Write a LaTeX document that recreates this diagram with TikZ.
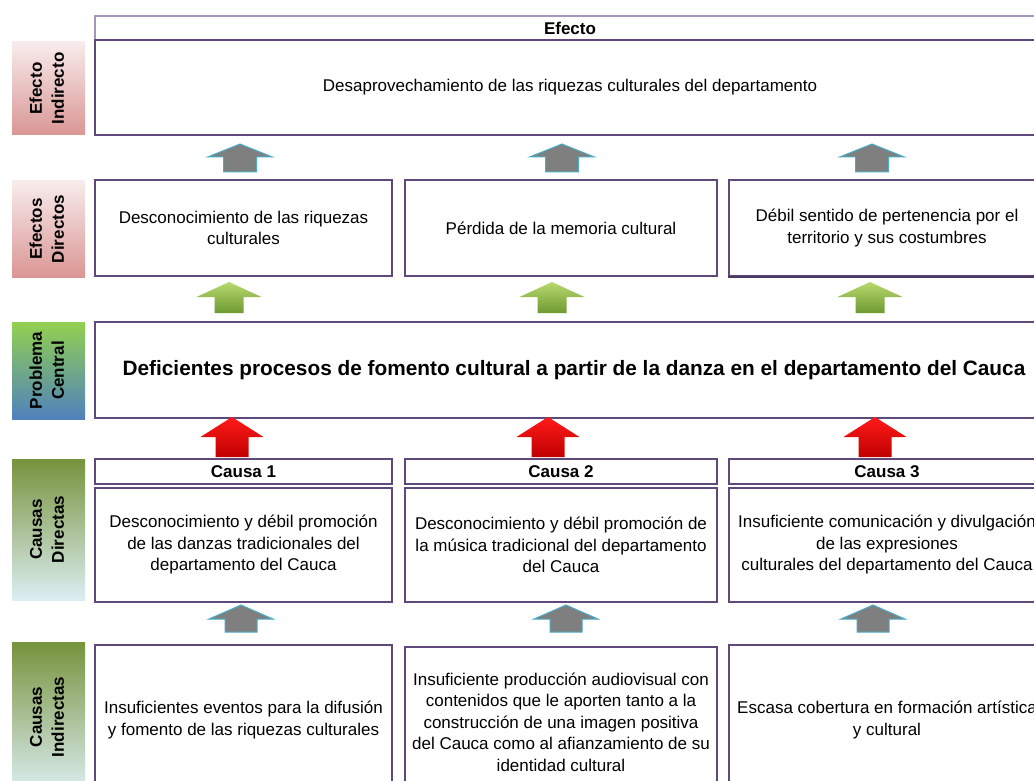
\documentclass[tikz,border=0pt]{standalone}
\usepackage{fontspec}
\setmainfont{Liberation Sans}
\usepackage{graphicx}
\definecolor{bord}{HTML}{5F497A}
\definecolor{bordlight}{HTML}{A596BA}
\definecolor{arrgray}{HTML}{7F7F7F}
\definecolor{arrblue}{HTML}{4BACC6}
\definecolor{pinktop}{HTML}{F8ECEC}
\definecolor{pinkbot}{HTML}{D99694}
\definecolor{pcgreen}{HTML}{92D050}
\definecolor{pcblue}{HTML}{4F81BD}
\definecolor{olive}{HTML}{77933C}
\definecolor{paleblue}{HTML}{DCEEF2}
\definecolor{grtop}{HTML}{B8D96E}
\definecolor{grbot}{HTML}{6E9A32}
\definecolor{rdtop}{HTML}{FF1A1A}
\definecolor{rdbot}{HTML}{C00000}
\newcommand\blockup[7]{\path[#1] (#2,#3) -- ++(#4,#5) -- ++(-#4+#6,0) -- ++(0,#7-#5) -- ++(-2*#6,0) -- ++(0,-#7+#5) -- ++(-#4+#6,0) -- cycle;}
\begin{document}
\begin{tikzpicture}[x=1pt,y=-1pt,
  box/.style={draw=bord, line width=1.8pt, fill=white, inner sep=0pt, align=center,
    font=\fontsize{17}{21.5}\selectfont},
  hdr/.style={box, font=\bfseries\fontsize{17}{21.5}\selectfont},
  lab/.style={inner sep=0pt, minimum width=73pt, font=\bfseries\fontsize{17}{22}\selectfont},
  grayarr/.style={fill=arrgray, draw=arrblue, line width=1pt},
  greenarr/.style={top color=grtop, bottom color=grbot},
  redarr/.style={top color=rdtop, bottom color=rdbot}]
\useasboundingbox (0,0) rectangle (1034,781);
\clip (0,0) rectangle (1034,781);
\fill[white] (0,0) rectangle (1034,781);

% left labels
\node[lab, minimum height=93pt, top color=pinktop, bottom color=pinkbot] (lEI) at (48.5,88.5)
  {\rotatebox{90}{\begin{tabular}{@{}c@{}}Efecto\\Indirecto\end{tabular}}};
\node[lab, minimum height=96pt, top color=pinktop, bottom color=pinkbot] (lED) at (48.5,229)
  {\rotatebox{90}{\begin{tabular}{@{}c@{}}Efectos\\Directos\end{tabular}}};
\node[lab, minimum height=97pt, top color=pcgreen, bottom color=pcblue] (lPC) at (48.5,370.5)
  {\rotatebox{90}{\begin{tabular}{@{}c@{}}Problema\\Central\end{tabular}}};
\node[lab, minimum height=141pt, top color=olive, bottom color=paleblue] (lCD) at (48.5,529.5)
  {\rotatebox{90}{\begin{tabular}{@{}c@{}}Causas\\Directas\end{tabular}}};
\node[lab, minimum height=150pt, top color=olive, bottom color=paleblue] (lCI) at (48.5,717)
  {\rotatebox{90}{\begin{tabular}{@{}c@{}}Causas\\Indirectas\end{tabular}}};

% effect
\node[hdr, draw=bordlight, minimum width=950pt, minimum height=24pt] (hEf) at (570,28) {Efecto};
\node[box, minimum width=950pt, minimum height=95pt] (ef) at (570,87.5)
  {Desaprovechamiento de las riquezas culturales del departamento};

% direct effects
\node[box, minimum width=297pt, minimum height=96pt] (ed1) at (243.5,228)
  {Desconocimiento de las riquezas\\culturales};
\node[box, minimum width=312pt, minimum height=96pt] (ed2) at (561,228)
  {Pérdida de la memoria cultural};
\node[box, minimum width=316pt, minimum height=96pt] (ed3) at (887,228)
  {Débil sentido de pertenencia por el\\territorio y sus costumbres};
\draw[bord!80!black, line width=2.6pt] (ed3.south west) -- (ed3.south east);

% central problem
\node[box, minimum width=950pt, minimum height=96pt, font=\bfseries\fontsize{20.8}{24}\selectfont] (pc) at (570,370)
  {\hspace*{8pt}Deficientes procesos de fomento cultural a partir de la danza en el departamento del Cauca};

% causes headers
\node[hdr, minimum width=297pt, minimum height=25pt] (hc1) at (243.5,471.5) {Causa 1};
\node[hdr, minimum width=312pt, minimum height=25pt] (hc2) at (561,471.5) {Causa 2};
\node[hdr, minimum width=316pt, minimum height=25pt] (hc3) at (887,471.5) {Causa 3};

% direct causes
\node[box, minimum width=297pt, minimum height=114pt] (c1) at (243.5,545)
  {Desconocimiento y débil promoción\\de las danzas tradicionales del\\departamento del Cauca};
\node[box, minimum width=312pt, minimum height=114pt] (c2) at (561,545)
  {Desconocimiento y débil promoción de\\la música tradicional del departamento\\del Cauca};
\node[box, minimum width=316pt, minimum height=114pt] (c3) at (887,545)
  {Insuficiente comunicación y divulgación\\de las expresiones\\culturales del departamento del Cauca};

% indirect causes
\node[box, minimum width=297pt, minimum height=150pt] (ci1) at (243.5,720)
  {Insuficientes eventos para la difusión\\y fomento de las riquezas culturales};
\node[box, minimum width=312pt, minimum height=150pt] (ci2) at (561,722)
  {Insuficiente producción audiovisual con\\contenidos que le aporten tanto a la\\construcción de una imagen positiva\\del Cauca como al afianzamiento de su\\identidad cultural};
\node[box, minimum width=316pt, minimum height=150pt] (ci3) at (887,720)
  {Escasa cobertura en formación artística\\y cultural};

% block arrows
\blockup{grayarr}{240}{144}{32.5}{13}{16.5}{28}
\blockup{grayarr}{562}{144}{32.5}{13}{16.5}{28}
\blockup{grayarr}{872}{144}{32.5}{13}{16.5}{28}

\blockup{greenarr}{229}{282}{32.5}{15}{14.5}{31}
\blockup{greenarr}{552}{282}{32.5}{15}{14.5}{31}
\blockup{greenarr}{870}{282}{32.5}{15}{14.5}{31}

\blockup{redarr}{232}{417}{31.5}{20}{16.5}{40}
\blockup{redarr}{548}{417}{31.5}{20}{16.5}{40}
\blockup{redarr}{875}{417}{31.5}{20}{16.5}{40}

\blockup{grayarr}{241}{605}{32}{14}{16}{27}
\blockup{grayarr}{566}{605}{32}{14}{16}{27}
\blockup{grayarr}{873}{605}{32}{14}{16}{27}
\end{tikzpicture}
\end{document}
